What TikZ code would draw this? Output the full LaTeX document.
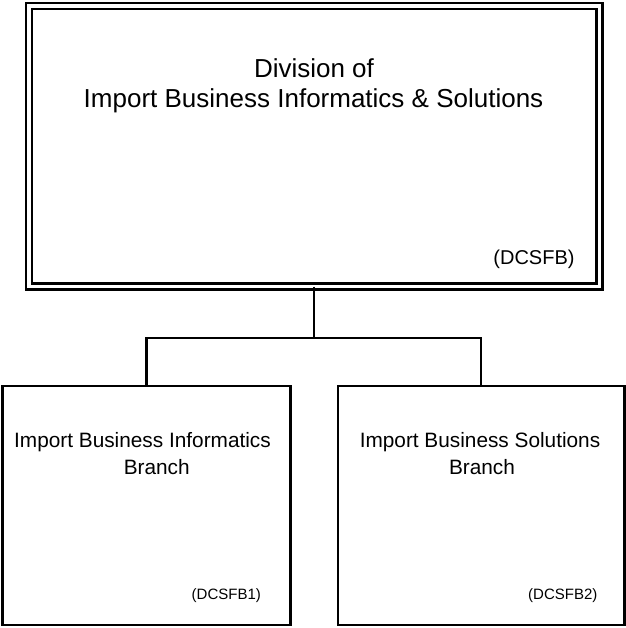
\documentclass[tikz,border=0pt]{standalone}
\usepackage{fontspec}
\setmainfont{Liberation Sans}
\begin{document}
\begin{tikzpicture}[x=1pt,y=-1pt,
  boxline/.style={draw=black,line width=2.2pt},
  conn/.style={draw=black,line width=2.2pt},
  bigtxt/.style={inner sep=0pt,font=\fontsize{26}{31}\selectfont},
  midtxt/.style={inner sep=0pt,font=\fontsize{20.8}{25}\selectfont},
  codetxt/.style={inner sep=0pt,font=\fontsize{20}{24}\selectfont},
  smalltxt/.style={inner sep=0pt,font=\fontsize{15}{18}\selectfont}]
\useasboundingbox (0,0) rectangle (625,628);
% top box (double border)
\node[draw=black,line width=2.2pt,double=white,double distance=3.8pt,
  minimum width=570.5pt,minimum height=280.5pt,inner sep=0pt,outer sep=0pt,
  anchor=north west] (top) at (29,6) {};
% bottom boxes
\node[boxline,minimum width=288pt,minimum height=239.3pt,inner sep=0pt,outer sep=0pt,
  anchor=north west] (lb) at (2.5,386) {};
\node[boxline,minimum width=286.5pt,minimum height=239.3pt,inner sep=0pt,outer sep=0pt,
  anchor=north west] (rb) at (338,386) {};
% texts
\node[bigtxt] (t1) at (314,68) {Division of};
\node[bigtxt] (t2) at (313.5,101) {Import Business Informatics \& Solutions};
\node[codetxt] (t3) at (534,259) {(DCSFB)};
\node[midtxt] (l1) at (142.5,442) {Import Business Informatics};
\node[midtxt] (l2) at (156.7,467) {Branch};
\node[smalltxt] (l3) at (226.3,596) {(DCSFB1)};
\node[midtxt] (r1) at (480,442) {Import Business Solutions};
\node[midtxt] (r2) at (482,467) {Branch};
\node[smalltxt] (r3) at (562.8,596) {(DCSFB2)};
% connectors
\coordinate (j) at (314.25,338.3);
\draw[conn] (top.south) -- (j);
\draw[conn] (lb.north) |- (j) -| (rb.north);
\end{tikzpicture}
\end{document}
